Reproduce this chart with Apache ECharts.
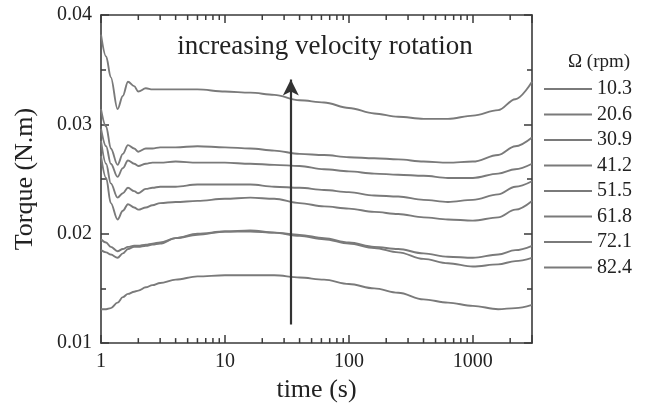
<!DOCTYPE html>
<html>
<head>
<meta charset="utf-8">
<script src="https://cdn.jsdelivr.net/npm/echarts@6/dist/echarts.min.js"></script>
<style>
  html, body { margin: 0; padding: 0; background: #fff; }
  #main { width: 648px; height: 408px; }
</style>
</head>
<body>
<div id="main"></div>
<script>
// time (s), log scale
const times = [1, 1.1, 1.2, 1.36, 1.5, 1.65, 1.85, 2, 2.3, 2.6, 3, 4, 6, 10, 16, 25, 40, 63, 100, 160, 250, 400, 630, 1000, 1600, 2200, 3000];

// torque (N.m) for each rotation speed, bottom curve = slowest
const rpm103 = [0.0131, 0.0131, 0.0132, 0.0137, 0.0142, 0.0145, 0.0147, 0.0148, 0.0151, 0.0153, 0.0155,
  0.0158, 0.0161, 0.0162, 0.0162, 0.0162, 0.0160, 0.0158, 0.0154, 0.0150, 0.0146, 0.0140, 0.0137, 0.0134, 0.0131, 0.0132, 0.0135];
const rpm206 = [0.0185, 0.0183, 0.0181, 0.0178, 0.0182, 0.0186, 0.0188, 0.0188, 0.0189, 0.0190, 0.0191,
  0.0196, 0.0199, 0.0202, 0.0202, 0.0201, 0.0198, 0.0195, 0.0191, 0.0187, 0.0183, 0.0177, 0.0173, 0.0170, 0.0172, 0.0175, 0.0178];
const rpm309 = [0.0195, 0.0192, 0.0188, 0.0184, 0.0186, 0.0188, 0.0189, 0.0189, 0.0190, 0.0191, 0.0192,
  0.0196, 0.0200, 0.0202, 0.0203, 0.0201, 0.0199, 0.0196, 0.0192, 0.0188, 0.0186, 0.0182, 0.0179, 0.0178, 0.0181, 0.0185, 0.0189];
const rpm412 = [0.0271, 0.0251, 0.0228, 0.0213, 0.0221, 0.0227, 0.0224, 0.0222, 0.0224, 0.0226, 0.0228,
  0.0229, 0.0230, 0.0232, 0.0233, 0.0232, 0.0228, 0.0225, 0.0223, 0.0220, 0.0218, 0.0215, 0.0213, 0.0212, 0.0215, 0.0222, 0.0230];
const rpm515 = [0.0285, 0.0264, 0.0246, 0.0233, 0.0237, 0.0242, 0.0239, 0.0237, 0.0241, 0.0242, 0.0243,
  0.0243, 0.0245, 0.0245, 0.0245, 0.0243, 0.0242, 0.0240, 0.0238, 0.0235, 0.0234, 0.0231, 0.0229, 0.0231, 0.0236, 0.0243, 0.0248];
const rpm618 = [0.0296, 0.0280, 0.0264, 0.0252, 0.0260, 0.0267, 0.0264, 0.0262, 0.0264, 0.0265, 0.0265,
  0.0266, 0.0265, 0.0265, 0.0264, 0.0263, 0.0262, 0.0259, 0.0257, 0.0255, 0.0254, 0.0253, 0.0251, 0.0251, 0.0255, 0.0259, 0.0264];
const rpm721 = [0.0314, 0.0298, 0.0278, 0.0263, 0.0273, 0.0281, 0.0278, 0.0275, 0.0278, 0.0278, 0.0279,
  0.0279, 0.0280, 0.0279, 0.0278, 0.0276, 0.0273, 0.0272, 0.0270, 0.0269, 0.0268, 0.0266, 0.0265, 0.0266, 0.0272, 0.0280, 0.0288];
const rpm824 = [0.0382, 0.0362, 0.0343, 0.0314, 0.0326, 0.0339, 0.0335, 0.0330, 0.0333, 0.0332, 0.0332,
  0.0332, 0.0332, 0.0330, 0.0329, 0.0327, 0.0322, 0.0320, 0.0315, 0.0310, 0.0307, 0.0305, 0.0305, 0.0308, 0.0313, 0.0323, 0.0339];

const speedNames = ['10.3', '20.6', '30.9', '41.2', '51.5', '61.8', '72.1', '82.4'];
const speedData = [rpm103, rpm206, rpm309, rpm412, rpm515, rpm618, rpm721, rpm824];

const xMajor = [1, 10, 100, 1000];
const xMinor = [2, 3, 4, 5, 6, 7, 8, 9, 20, 30, 40, 50, 60, 70, 80, 90, 200, 300, 400, 500, 600, 700, 800, 900, 2000];
const yTicks = [0.01, 0.02, 0.03, 0.04];

// arrow annotation
const arrowTime = 34;
const arrowFrom = 0.0117;
const arrowTo = 0.0341;

const serif = 'Liberation Serif';
const axisColor = '#3a3a3a';
const lineColor = '#7a7a7a';

let myChart = echarts.init(document.getElementById('main'));

let lineSeries = speedData.map((d, i) => ({
    name: speedNames[i],
    type: 'line',
    data: times.map((t, j) => [t, d[j]]),
    showSymbol: false,
    symbol: 'none',
    smooth: 0.35,
    smoothMonotone: 'x',
    lineStyle: { color: lineColor, width: 1.9 },
    itemStyle: { color: lineColor },
    silent: true,
    z: 3
}));

// the arrow, drawn as a markLine on the data scale
lineSeries[7].markLine = {
    silent: true,
    symbol: ['none', 'arrow'],
    symbolSize: [12, 16],
    label: { show: false },
    lineStyle: { color: '#333', width: 2.2, type: 'solid' },
    data: [[{ coord: [arrowTime, arrowFrom] }, { coord: [arrowTime, arrowTo] }]]
};

// minor log ticks on bottom and top frame
let minorTickSeries = {
    type: 'custom',
    silent: true,
    z: 10,
    data: xMinor.map(v => [v, 0.01]),
    renderItem: function (params, api) {
        let b = api.coord([api.value(0), 0.01]);
        let t = api.coord([api.value(0), 0.04]);
        return {
            type: 'group',
            children: [
                { type: 'line', shape: { x1: b[0], y1: b[1], x2: b[0], y2: b[1] - 5 }, style: { stroke: axisColor, lineWidth: 1.5 } },
                { type: 'line', shape: { x1: t[0], y1: t[1], x2: t[0], y2: t[1] + 5 }, style: { stroke: axisColor, lineWidth: 1.5 } }
            ]
        };
    }
};

let baseX = {
    type: 'log',
    logBase: 10,
    min: 1,
    max: 3000,
    axisLine: { show: true, onZero: false, lineStyle: { color: axisColor, width: 1.6 } },
    axisTick: { show: true, inside: true, length: 8, lineStyle: { color: axisColor, width: 1.5 } },
    splitLine: { show: false },
    minorTick: { show: false },
    minorSplitLine: { show: false }
};

let baseY = {
    type: 'value',
    min: 0.01,
    max: 0.04,
    interval: 0.01,
    axisLine: { show: true, onZero: false, lineStyle: { color: axisColor, width: 1.6 } },
    axisTick: { show: true, inside: true, length: 8, lineStyle: { color: axisColor, width: 1.5 } },
    minorTick: { show: true, splitNumber: 2, length: 5, lineStyle: { color: axisColor, width: 1.5 } },
    splitLine: { show: false }
};

myChart.setOption({
    animation: false,
    backgroundColor: '#fff',
    textStyle: { fontFamily: serif },
    grid: { left: 101, top: 15, width: 431, height: 331, containLabel: false },
    legend: {
        orient: 'vertical',
        left: 539,
        top: 74,
        itemWidth: 48,
        itemHeight: 14,
        itemGap: 5.5,
        data: speedNames.map(n => ({
            name: n,
            icon: 'path://M0,6L48,6L48,8L0,8Z'
        })),
        selectedMode: false,
        textStyle: { fontFamily: serif, fontSize: 20, color: '#222', lineHeight: 20 },
        itemStyle: { color: lineColor }
    },
    graphic: [{
        type: 'text',
        x: 325,
        y: 33,
        style: {
            text: 'increasing velocity rotation',
            font: '27px "Liberation Serif"',
            fill: '#222',
            align: 'center',
            textAlign: 'center'
        }
    }, {
        type: 'text',
        x: 599,
        y: 53,
        style: {
            text: 'Ω (rpm)',
            font: '19px "Liberation Serif"',
            fill: '#222',
            align: 'center',
            textAlign: 'center'
        }
    }],
    xAxis: [
        Object.assign({}, baseX, {
            position: 'bottom',
            name: 'time (s)',
            nameLocation: 'middle',
            nameGap: 33,
            nameTextStyle: { fontFamily: serif, fontSize: 26, color: '#222', verticalAlign: 'top' },
            axisLabel: {
                show: true,
                margin: 9,
                fontFamily: serif,
                fontSize: 20,
                color: '#222',
                formatter: v => xMajor.indexOf(v) >= 0 ? String(v) : ''
            }
        }),
        Object.assign({}, baseX, {
            position: 'top',
            axisLabel: { show: false }
        })
    ],
    yAxis: [
        Object.assign({}, baseY, {
            position: 'left',
            name: 'Torque (N.m)',
            nameLocation: 'middle',
            nameGap: 63,
            nameTextStyle: { fontFamily: serif, fontSize: 26, color: '#222' },
            axisLabel: {
                show: true,
                margin: 9,
                fontFamily: serif,
                fontSize: 20,
                color: '#222',
                formatter: v => yTicks.some(t => Math.abs(t - v) < 1e-9) ? v.toFixed(2) : ''
            }
        }),
        Object.assign({}, baseY, {
            position: 'right',
            axisLabel: { show: false }
        })
    ],
    series: lineSeries.concat([minorTickSeries])
});

window.onresize = function () {
    myChart.resize();
};
</script>
</body>
</html>
